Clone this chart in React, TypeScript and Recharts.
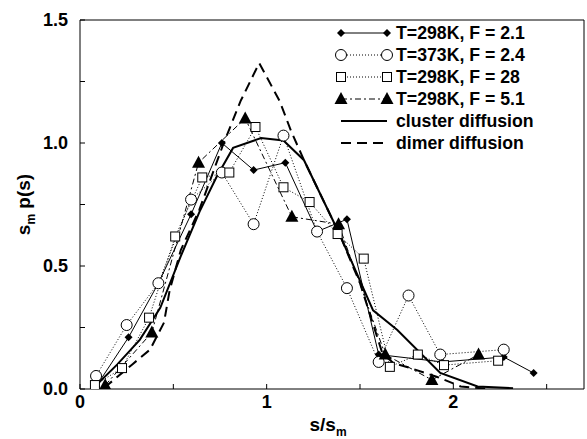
import React from 'react'
import { ComposedChart, Line, XAxis, YAxis } from 'recharts'

// T=298K, F=2.1 (filled diamonds, solid)
const f21X = [0.086, 0.26, 0.42, 0.595, 0.76, 0.93, 1.1, 1.27, 1.43, 1.6, 1.94, 2.27, 2.43]
const f21Y = [0.01, 0.21, 0.43, 0.71, 1.0, 0.89, 0.92, 0.64, 0.69, 0.14, 0.11, 0.13, 0.065]

// T=373K, F=2.4 (open circles, dotted)
const f24X = [0.086, 0.25, 0.42, 0.595, 0.76, 0.93, 1.09, 1.27, 1.43, 1.6, 1.76, 1.93, 2.27]
const f24Y = [0.053, 0.26, 0.43, 0.77, 0.88, 0.67, 1.03, 0.64, 0.41, 0.11, 0.38, 0.14, 0.16]

// T=298K, F=28 (open squares, dotted)
const f28X = [0.08, 0.225, 0.37, 0.51, 0.655, 0.8, 0.94, 1.09, 1.23, 1.38, 1.52, 1.66, 1.81, 1.95, 2.24]
const f28Y = [0.016, 0.085, 0.29, 0.62, 0.86, 0.88, 1.065, 0.82, 0.76, 0.63, 0.53, 0.09, 0.14, 0.097, 0.115]

// T=298K, F=5.1 (filled triangles, dash-dot)
const f51X = [0.135, 0.385, 0.635, 0.885, 1.135, 1.385, 1.635, 1.885, 2.135]
const f51Y = [0.015, 0.23, 0.92, 1.1, 0.7, 0.67, 0.14, 0.037, 0.14]

// cluster diffusion (thick solid)
const clusterX = [0.08, 0.2, 0.32, 0.43, 0.54, 0.64, 0.73, 0.82, 0.97, 1.09, 1.2, 1.39, 1.57, 1.7, 1.93, 2.13, 2.32]
const clusterY = [0.01, 0.1, 0.2, 0.33, 0.54, 0.72, 0.86, 0.98, 1.02, 1.01, 0.93, 0.63, 0.32, 0.24, 0.065, 0.01, 0.003]

// dimer diffusion (thick dashed)
const dimerX = [0.13, 0.28, 0.375, 0.45, 0.48, 0.54, 0.64, 0.77, 0.86, 0.96, 1.07, 1.13, 1.2, 1.39, 1.5, 1.62, 1.68, 1.77, 1.91, 2.04, 2.2]
const dimerY = [0.005, 0.1, 0.16, 0.27, 0.4, 0.565, 0.73, 1.0, 1.17, 1.325, 1.17, 1.05, 0.93, 0.63, 0.43, 0.145, 0.105, 0.085, 0.05, 0.01, 0.0]

const xTicks = [0, 0.5, 1, 1.5, 2, 2.5]
const yTicks = [0, 0.25, 0.5, 0.75, 1, 1.25, 1.5]

const legendLabels = [
  'T=298K, F = 2.1',
  'T=373K, F = 2.4',
  'T=298K, F = 28',
  'T=298K, F = 5.1',
  'cluster diffusion',
  'dimer diffusion',
]

const toPoints = (xs: number[], ys: number[]) => xs.map((x, i) => ({ x, y: ys[i] }))

const FONT = '"Liberation Sans", Arial, Helvetica, sans-serif'

type Shape = 'diamond' | 'circle' | 'square' | 'triangle' | 'none'

function marker(shape: Shape, cx: number, cy: number, key?: React.Key) {
  switch (shape) {
    case 'diamond':
      return <path key={key} d={`M${cx},${cy - 4}L${cx + 4},${cy}L${cx},${cy + 4}L${cx - 4},${cy}Z`} fill="#000" />
    case 'circle':
      return <circle key={key} cx={cx} cy={cy} r={5.5} fill="#fff" stroke="#000" strokeWidth={1} />
    case 'square':
      return <rect key={key} x={cx - 4.5} y={cy - 4.5} width={9} height={9} fill="#fff" stroke="#000" strokeWidth={1} />
    case 'triangle':
      return <path key={key} d={`M${cx},${cy - 7}L${cx + 6.5},${cy + 5}L${cx - 6.5},${cy + 5}Z`} fill="#000" />
    default:
      return <g key={key} />
  }
}

const dotFor = (shape: Shape) => (props: any) => marker(shape, props.cx, props.cy, props.index)

const series = [
  { name: legendLabels[0], data: toPoints(f21X, f21Y), shape: 'diamond' as Shape, width: 1, dash: undefined },
  { name: legendLabels[1], data: toPoints(f24X, f24Y), shape: 'circle' as Shape, width: 1, dash: '1 2' },
  { name: legendLabels[2], data: toPoints(f28X, f28Y), shape: 'square' as Shape, width: 1, dash: '1 2' },
  { name: legendLabels[3], data: toPoints(f51X, f51Y), shape: 'triangle' as Shape, width: 1, dash: '6 3 2 3' },
  { name: legendLabels[4], data: toPoints(clusterX, clusterY), shape: 'none' as Shape, width: 2, dash: undefined },
  { name: legendLabels[5], data: toPoints(dimerX, dimerY), shape: 'none' as Shape, width: 2, dash: '10 6' },
]

function PlotLegend() {
  return (
    <div style={{ position: 'absolute', left: 334, top: 22, fontFamily: FONT, fontWeight: 700, fontSize: 17.7 }}>
      {series.map((s) => (
        <div key={s.name} style={{ display: 'flex', alignItems: 'center', height: 22 }}>
          <svg width={60} height={22} style={{ flex: 'none' }}>
            <line x1={7} y1={11} x2={53} y2={11} stroke="#000" strokeWidth={s.width} strokeDasharray={s.dash} />
            {s.shape !== 'none' && marker(s.shape, 7, 11, 'a')}
            {s.shape !== 'none' && marker(s.shape, 53, 11, 'b')}
          </svg>
          <span style={{ marginLeft: 2, whiteSpace: 'nowrap', lineHeight: '22px' }}>{s.name}</span>
        </div>
      ))}
    </div>
  )
}

function YLabel(props: any) {
  const vb = props.viewBox || { x: 0, y: 20, width: 80, height: 369 }
  const cx = 30
  const cy = vb.y + vb.height / 2
  return (
    <text
      x={cx}
      y={cy}
      transform={`rotate(-90 ${cx} ${cy})`}
      textAnchor="middle"
      fontFamily={FONT}
      fontWeight={700}
      fontSize={19}
      fill="#000"
    >
      s<tspan fontSize={12} dy={5}>m</tspan>
      <tspan dy={-5}> p(s)</tspan>
    </text>
  )
}

function XLabel(props: any) {
  const vb = props.viewBox || { x: 80, y: 389, width: 504, height: 50 }
  const cx = vb.x + vb.width / 2 - 4
  return (
    <text x={cx} y={431} textAnchor="middle" fontFamily={FONT} fontWeight={700} fontSize={19} fill="#000">
      s/s<tspan fontSize={12} dy={5}>m</tspan>
    </text>
  )
}

const tickStyle = { fontFamily: FONT, fontWeight: 700, fontSize: 18, fill: '#000' }

export default function App() {
  return (
    <div style={{ position: 'absolute', left: 0, top: 0, width: 587, height: 439, background: '#fff' }}>
      <ComposedChart width={587} height={439} margin={{ top: 0, right: 0, bottom: 0, left: 0 }}>
        <XAxis
          xAxisId="bottom"
          dataKey="x"
          type="number"
          domain={[0, 2.7]}
          allowDataOverflow
          ticks={xTicks}
          height={50}
          stroke="#000"
          tickSize={-5}
          tickMargin={11}
          tick={tickStyle}
          tickFormatter={(v: number) => (Number.isInteger(v) ? String(v) : '')}
          label={<XLabel />}
        />
        <XAxis
          xAxisId="top"
          orientation="top"
          dataKey="x"
          type="number"
          domain={[0, 2.7]}
          allowDataOverflow
          ticks={xTicks}
          height={20}
          stroke="#000"
          tickSize={-5}
          tick={false}
        />
        <YAxis
          yAxisId="left"
          type="number"
          domain={[0, 1.5]}
          allowDataOverflow
          ticks={yTicks}
          width={80}
          stroke="#000"
          tickSize={-5}
          tickMargin={17}
          tick={tickStyle}
          tickFormatter={(v: number) => (Math.abs(v * 2 - Math.round(v * 2)) < 1e-6 ? v.toFixed(1) : '')}
          label={<YLabel />}
        />
        <YAxis
          yAxisId="right"
          orientation="right"
          type="number"
          domain={[0, 1.5]}
          allowDataOverflow
          ticks={yTicks}
          width={3}
          stroke="#000"
          tickSize={-5}
          tick={false}
        />
        {/* invisible series so the mirrored frame axes get a domain */}
        <Line
          xAxisId="top"
          yAxisId="right"
          data={series[4].data}
          dataKey="y"
          stroke="none"
          dot={false}
          activeDot={false}
          legendType="none"
          isAnimationActive={false}
        />
        {series.map((s) => (
          <Line
            key={s.name}
            xAxisId="bottom"
            yAxisId="left"
            data={s.data}
            dataKey="y"
            name={s.name}
            type="linear"
            stroke="#000"
            strokeWidth={s.width}
            strokeDasharray={s.dash}
            dot={s.shape === 'none' ? false : dotFor(s.shape)}
            activeDot={false}
            isAnimationActive={false}
          />
        ))}
      </ComposedChart>
      <PlotLegend />
    </div>
  )
}
